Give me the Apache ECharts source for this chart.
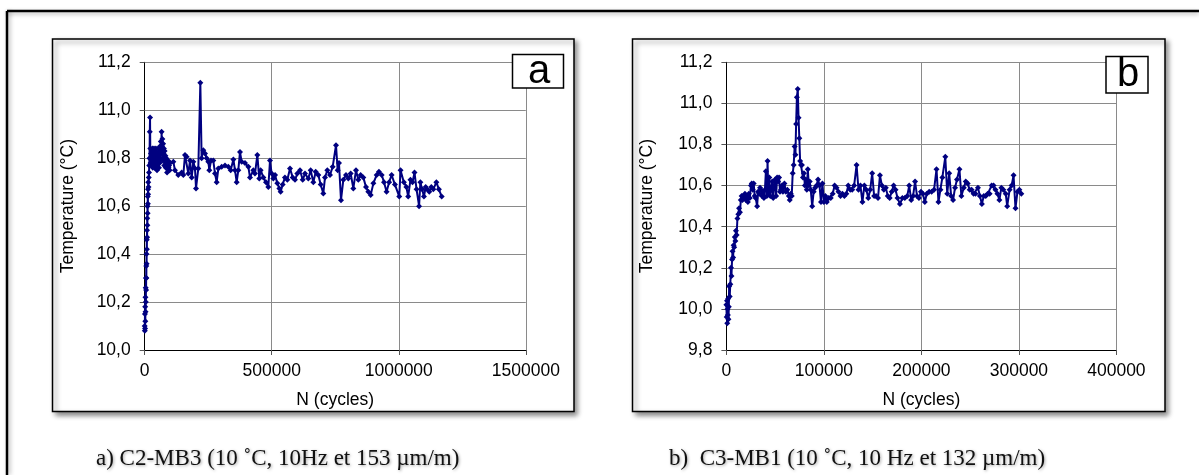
<!DOCTYPE html>
<html>
<head>
<meta charset="utf-8">
<script src="https://cdn.jsdelivr.net/npm/echarts@6/dist/echarts.min.js"></script>
<style>
html,body{margin:0;padding:0;background:#fff;}
#chart{width:1199px;height:475px;}
</style>
</head>
<body>
<div id="chart"></div>
<script>
// ---- Chart a : C2-MB3 ----
const aN = [0,500,1000,1500,2000,2500,3000,3500,4000,4500,5000,5500,6000,6500,7000,7500,8000,8500,9000,9500,10000,10500,11000,11500,12000,12500,13000,13500,14000,15000,16000,17000,18000,
19000,20000,21000,22000,23000,24500,26000,27500,29000,30500,32000,33500,35000,36500,38000,39500,41000,42500,44000,45500,47000,48500,50000,51500,53000,54500,56000,57500,59000,60500,62000,63500,65000,66500,68000,69500,71000,72500,74000,75500,77000,78500,80000,81500,83000,84500,86000,88000,90000,92000,94000,96000,98000,100000,
112700,119000,132000,145500,152000,158600,165000,171700,178300,185000,191400,198000,202000,211000,219000,224000,230800,237300,244000,250500,254400,261000,270000,276700,283300,289800,303000,316000,329000,338400,349000,355400,362000,368500,375000,381700,394800,408000,414500,427600,434000,443300,451000,456400,467000,477400,486600,493200,499700,506300,513000,522000,530000,535000,543000,552000,561400,572000,582400,591600,600800,611300,621800,631000,644000,653200,663700,673000,683400,692600,703000,709700,718800,729300,739800,753000,759500,764700,772600,781800,792300,801500,810700,821200,831700,840800,850000,860500,871000,880200,889400,900000,913000,922000,
932800,942000,952000,962000,971800,984900,1002000,1007000,1020000,1030000,1037000,1046000,1054000,1062000,1070000,1080000,1085000,1092000,1099000,1106000,1112000,1120000,1128000,1136000,1148000,1158000,1169000];
const aT = [10.10,10.08,10.15,10.09,10.18,10.12,10.22,10.16,10.26,10.20,10.30,10.25,10.35,10.30,10.40,10.36,10.46,10.42,10.50,10.47,10.55,10.52,10.60,10.57,10.64,10.61,10.67,10.65,10.70,10.68,10.72,10.74,10.77,
10.80,10.91,10.97,10.84,10.78,10.82,10.77,10.83,10.79,10.84,10.76,10.82,10.78,10.84,10.80,10.76,10.83,10.79,10.84,10.77,10.81,10.75,10.82,10.78,10.84,10.79,10.76,10.82,10.78,10.85,10.80,10.87,10.82,10.91,10.85,10.88,10.79,10.86,10.82,10.84,10.77,10.83,10.79,10.81,10.76,10.80,10.78,10.74,10.77,10.79,10.76,10.77,10.75,10.78,
10.785,10.75,10.73,10.74,10.73,10.813,10.806,10.736,10.79,10.72,10.785,10.757,10.674,10.757,11.115,10.80,10.833,10.82,10.80,10.785,10.75,10.79,10.79,10.736,10.70,10.757,10.764,10.77,10.764,10.75,10.795,10.75,10.70,10.75,10.826,10.785,10.78,10.764,10.72,10.75,10.736,10.813,10.715,10.75,10.72,10.70,10.68,10.79,10.736,10.715,10.73,10.695,10.674,10.66,10.69,10.72,10.71,10.757,10.72,10.71,10.736,10.75,10.71,10.736,10.715,10.75,10.70,10.743,10.73,10.69,10.653,10.72,10.75,10.73,10.764,10.854,10.75,10.78,10.625,10.71,10.73,10.715,10.736,10.674,10.75,10.71,10.73,10.72,10.68,10.66,10.646,10.695,10.73,10.743,
10.73,10.70,10.66,10.70,10.73,10.69,10.64,10.75,10.70,10.68,10.64,10.71,10.70,10.74,10.67,10.60,10.70,10.67,10.64,10.68,10.67,10.66,10.68,10.67,10.70,10.67,10.64];

// ---- Chart b : C3-MB1 ----
const bN = [0,300,600,900,1200,1500,1800,2100,2500,2800,3400,4000,4700,5200,5800,6300,6900,7400,8000,8600,9200,9800,10500,11300,12200,13000,13900,14800,15600,16500,17300,18200,19000,20000,21000,22000,23000,24000,25200,26000,27000,28000,29000,30000,31500,32500,33500,34500,35500,36500,37500,38500,39500,40500,41500,42200,43000,44000,45000,46000,47000,48000,49000,50000,51000,52000,53000,54000,55000,56000,57000,58000,59500,61000,62500,64000,65000,66000,67000,68000,69000,70000,70800,71500,72300,73200,74000,74800,75600,76500,77500,78500,79500,80500,81500,82500,83500,84500,85500,86500,88000,89500,91000,92500,94000,95500,97000,98500,100000,101500,103000,105000,107000,109000,111000,113000,115000,117000,119000,121000,123000,125000,127000,129000,131000,133500,135500,137500,139500,141500,143500,145500,147500,149500,151500,153500,155500,157500,159500,161500,163500,165500,167500,169500,171500,173500,175500,178000,180500,183000,185500,187500,189500,191500,193500,195500,197500,199500,201500,203500,205500,208000,210500,213000,215500,217500,219500,221500,224500,226500,228500,230500,232500,234500,236500,239000,241000,243500,245500,247500,249500,251500,253500,255500,258000,260000,262000,264000,266000,268000,270000,272000,274000,276000,278000,280000,282000,284000,286500,288000,290500,292500,294500,296500,298500,300500,302500];
const bT = [10.02,9.96,10.04,9.93,10.00,9.97,10.05,9.95,10.01,10.11,10.06,10.12,10.20,10.16,10.24,10.28,10.25,10.31,10.30,10.35,10.33,10.38,10.36,10.44,10.46,10.49,10.47,10.53,10.55,10.53,10.55,10.54,10.56,10.53,10.55,10.52,10.56,10.54,10.60,10.61,10.58,10.61,10.55,10.54,10.50,10.57,10.56,10.59,10.58,10.55,10.57,10.54,10.58,10.67,10.55,10.72,10.56,10.64,10.55,10.58,10.62,10.54,10.60,10.63,10.55,10.64,10.62,10.64,10.57,10.58,10.60,10.57,10.61,10.57,10.58,10.55,10.53,10.56,10.55,10.66,10.70,10.79,10.75,10.90,11.03,11.07,10.93,10.83,10.72,10.70,10.70,10.64,10.66,10.60,10.63,10.58,10.68,10.60,10.62,10.58,10.50,10.57,10.59,10.60,10.63,10.60,10.52,10.61,10.52,10.55,10.52,10.54,10.54,10.56,10.60,10.59,10.57,10.55,10.56,10.55,10.56,10.60,10.58,10.58,10.60,10.70,10.58,10.60,10.52,10.60,10.58,10.54,10.58,10.66,10.55,10.55,10.54,10.65,10.60,10.58,10.59,10.55,10.54,10.57,10.60,10.58,10.54,10.51,10.54,10.54,10.55,10.60,10.53,10.55,10.62,10.55,10.54,10.57,10.56,10.52,10.56,10.57,10.57,10.58,10.68,10.52,10.58,10.64,10.74,10.56,10.66,10.55,10.53,10.59,10.63,10.68,10.55,10.59,10.62,10.61,10.58,10.58,10.56,10.56,10.59,10.55,10.51,10.55,10.55,10.56,10.56,10.60,10.60,10.58,10.56,10.53,10.59,10.58,10.56,10.50,10.58,10.60,10.65,10.49,10.57,10.58,10.56,10.55];

const axisName = 'Temperature (°C)';
const xName = 'N (cycles)';
const captionA = 'a) C2-MB3 (10 ˚C, 10Hz et 153 µm/m)';
const captionB = 'b)  C3-MB1 (10 ˚C, 10 Hz et 132 µm/m)';

const zip = (xs, ys) => xs.map((x, i) => [x, ys[i]]);
const FONT = '"Liberation Sans", Arial, sans-serif';
const comma = v => v.toFixed(1).replace('.', ',');
const plain = v => String(Math.round(v));
const gridColor = '#8a8a8a';

function xAxis(gridIndex, max, interval) {
  return {
    type: 'value', gridIndex, min: 0, max, interval,
    name: xName, nameLocation: 'middle', nameGap: 41,
    nameTextStyle: {fontFamily: FONT, fontSize: 17.5, color: '#000'},
    axisLine: {show: true, lineStyle: {color: '#000', width: 1}},
    axisTick: {show: true, length: 5, lineStyle: {color: '#555'}},
    axisLabel: {fontFamily: FONT, fontSize: 17.5, color: '#000', margin: 12, formatter: plain},
    splitLine: {show: true, lineStyle: {color: gridColor, width: 1}}
  };
}
function yAxis(gridIndex, min, nameGap) {
  return {
    type: 'value', gridIndex, min, max: 11.2, interval: 0.2,
    name: axisName, nameLocation: 'middle', nameGap,
    nameTextStyle: {fontFamily: FONT, fontSize: 17.5, color: '#000'},
    axisLine: {show: true, lineStyle: {color: '#000', width: 1}},
    axisTick: {show: true, length: 5, lineStyle: {color: '#555'}},
    axisLabel: {fontFamily: FONT, fontSize: 17.5, color: '#000', margin: 14, formatter: comma},
    splitLine: {show: true, lineStyle: {color: gridColor, width: 1}}
  };
}
function series(i, data) {
  return {
    type: 'line', xAxisIndex: i, yAxisIndex: i, data,
    symbol: 'diamond', symbolSize: 6, showSymbol: true,
    lineStyle: {color: '#000080', width: 2},
    itemStyle: {color: '#000080'},
    z: 3
  };
}

const boxStyle = {fill: '#fff', stroke: '#000', lineWidth: 1.5, shadowBlur: 5, shadowOffsetX: 3, shadowOffsetY: 3, shadowColor: 'rgba(0,0,0,0.45)'};

const chart = echarts.init(document.getElementById('chart'), null, {renderer: 'canvas'});
chart.setOption({
  animation: false,
  backgroundColor: '#fff',
  grid: [
    {left: 144.7, top: 62.3, width: 381.1, height: 287.7},
    {left: 726.4, top: 62.3, width: 390, height: 287.7}
  ],
  xAxis: [xAxis(0, 1500000, 500000), xAxis(1, 400000, 100000)],
  yAxis: [yAxis(0, 10.0, 68), yAxis(1, 9.8, 70)],
  series: [series(0, zip(aN, aT)), series(1, zip(bN, bT))],
  graphic: [
    {type: 'line', z: -5, shape: {x1: 7, y1: 11, x2: 1199, y2: 11}, style: {stroke: '#000', lineWidth: 2.5, shadowBlur: 4, shadowOffsetY: 2, shadowColor: 'rgba(0,0,0,0.3)'}},
    {type: 'line', z: -5, shape: {x1: 7, y1: 11, x2: 7, y2: 475}, style: {stroke: '#000', lineWidth: 2.5, shadowBlur: 4, shadowOffsetX: 2, shadowColor: 'rgba(0,0,0,0.3)'}},
    {type: 'rect', z: -4, shape: {x: 52.5, y: 39, width: 521.5, height: 372.5}, style: boxStyle},
    {type: 'rect', z: -4, shape: {x: 632.5, y: 39, width: 532.5, height: 372.5}, style: boxStyle},
    {type: 'rect', z: 100, shape: {x: 512.5, y: 54.5, width: 51, height: 33.5}, style: {fill: '#fff', stroke: '#000', lineWidth: 1.5}},
    {type: 'text', z: 101, style: {text: 'a', x: 539, y: 72, align: 'center', verticalAlign: 'middle', font: '40px "Liberation Sans", Arial, sans-serif', fill: '#000'}},
    {type: 'rect', z: 100, shape: {x: 1106, y: 56.5, width: 42, height: 36.5}, style: {fill: '#fff', stroke: '#000', lineWidth: 1.5}},
    {type: 'text', z: 101, style: {text: 'b', x: 1128, y: 75, align: 'center', verticalAlign: 'middle', font: '40px "Liberation Sans", Arial, sans-serif', fill: '#000'}},
    {type: 'text', z: 50, style: {text: captionA, x: 96, y: 459, align: 'left', verticalAlign: 'middle', font: '23px "Liberation Serif", "Times New Roman", serif', fill: '#111', textShadowBlur: 3, textShadowColor: 'rgba(0,0,0,0.35)', textShadowOffsetX: 1, textShadowOffsetY: 1}},
    {type: 'text', z: 50, style: {text: captionB, x: 669, y: 459, align: 'left', verticalAlign: 'middle', font: '23px "Liberation Serif", "Times New Roman", serif', fill: '#111', textShadowBlur: 3, textShadowColor: 'rgba(0,0,0,0.35)', textShadowOffsetX: 1, textShadowOffsetY: 1}}
  ]
});
</script>
</body>
</html>
